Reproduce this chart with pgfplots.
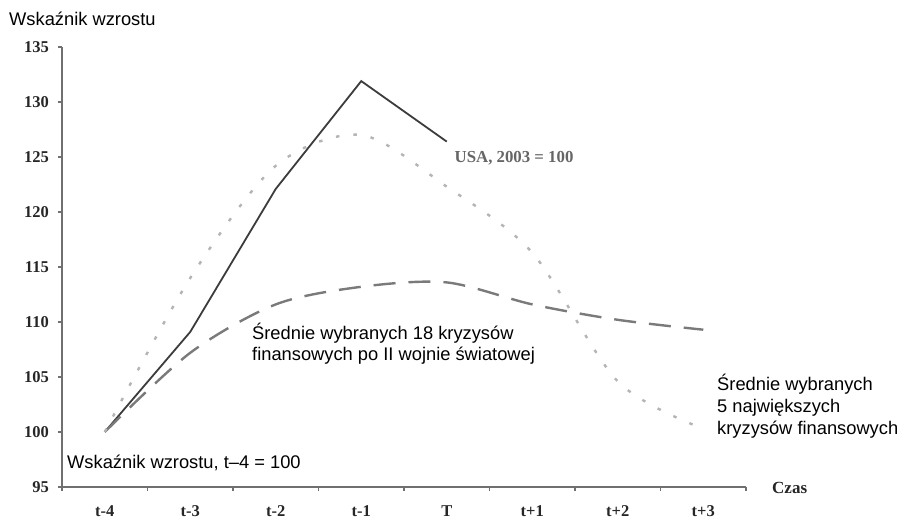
\documentclass[border=0pt]{standalone}
\usepackage{fontspec}
\setmainfont{Liberation Serif}
\setsansfont{Liberation Sans}
\usepackage{pgfplots}
\pgfplotsset{compat=1.18}
\definecolor{axgray}{HTML}{707070}
\definecolor{usagray}{HTML}{3C3C3C}
\definecolor{dashgray}{HTML}{7A7A7A}
\definecolor{dotgray}{HTML}{B4B4B4}
\definecolor{labgray}{HTML}{666666}
\begin{document}
\begin{tikzpicture}
\path[use as bounding box] (0,0) rectangle (902pt,519pt);
\begin{axis}[
  at={(62pt,32pt)}, anchor=south west,
  width=684pt, height=440pt, scale only axis,
  xmin=-0.5, xmax=7.5, ymin=95, ymax=135,
  axis x line*=bottom, axis y line*=left,
  axis line style={axgray, line width=1.8pt},
  xtick={-0.5,0.5,...,7.5},
  xticklabels={t-4,t-3,t-2,t-1,T,t+1,t+2,t+3,{}},
  ytick={95,100,...,135},
  tick style={axgray, line width=1.2pt},
  tick align=outside, major tick length=4pt,
  /pgf/number format/assume math mode=true,
  ticklabel style={font=\fontsize{16.5}{18}\selectfont\bfseries, text=black!85},
  xticklabel style={anchor=base, inner sep=0pt, xshift=42.75pt, yshift=-26pt},
  yticklabel style={anchor=east, inner sep=0pt, xshift=-9pt},
  clip=false,
]
\addplot[usagray, line width=1.8pt] coordinates {
  (0,100) (1,109.1) (2,122.1) (3,131.9) (4,126.4)
};
\addplot[dashgray, line width=2.4pt, dash pattern=on 22pt off 13pt, smooth, tension=0.5] coordinates {
  (0,100) (1,107.2) (2,111.6) (3,113.2) (4,113.6) (5,111.6) (6,110.2) (7,109.3)
};
\addplot[dotgray, line width=2.4pt, dash pattern=on 3.5pt off 14pt, smooth, tension=0.5] coordinates {
  (0,100) (1,114.0) (2,124.2) (3,127.0) (4,122.3) (5,116.3) (6,104.6) (7,100.3)
};
\node[font=\fontsize{16.8}{18}\selectfont\bfseries, text=labgray, inner sep=0pt] at (axis cs:4.787,124.9) {USA, 2003 = 100};
\node[font=\sffamily\fontsize{18.3}{21}\selectfont, align=left, anchor=north west, inner sep=0pt] at (axis cs:1.722,109.91) {Średnie wybranych 18 kryzysów\\finansowych po II wojnie światowej};
\node[font=\sffamily\fontsize{18.3}{21.8}\selectfont, align=left, anchor=north west, inner sep=0pt] at (axis cs:7.161,105.27) {Średnie wybranych\\5 największych\\kryzysów finansowych};
\node[font=\sffamily\fontsize{18.3}{21}\selectfont, anchor=base west, inner sep=0pt] at (axis cs:-0.4415,96.727) {Wskaźnik wzrostu, t–4 = 100};
\end{axis}
\node[font=\sffamily\fontsize{18.3}{21}\selectfont, anchor=base west, inner sep=0pt] at (9pt,493.3pt) {Wskaźnik wzrostu};
\node[font=\fontsize{17}{19}\selectfont\bfseries, text=black!85, anchor=base west, inner sep=0pt] at (772pt,25pt) {Czas};
\end{tikzpicture}
\end{document}
